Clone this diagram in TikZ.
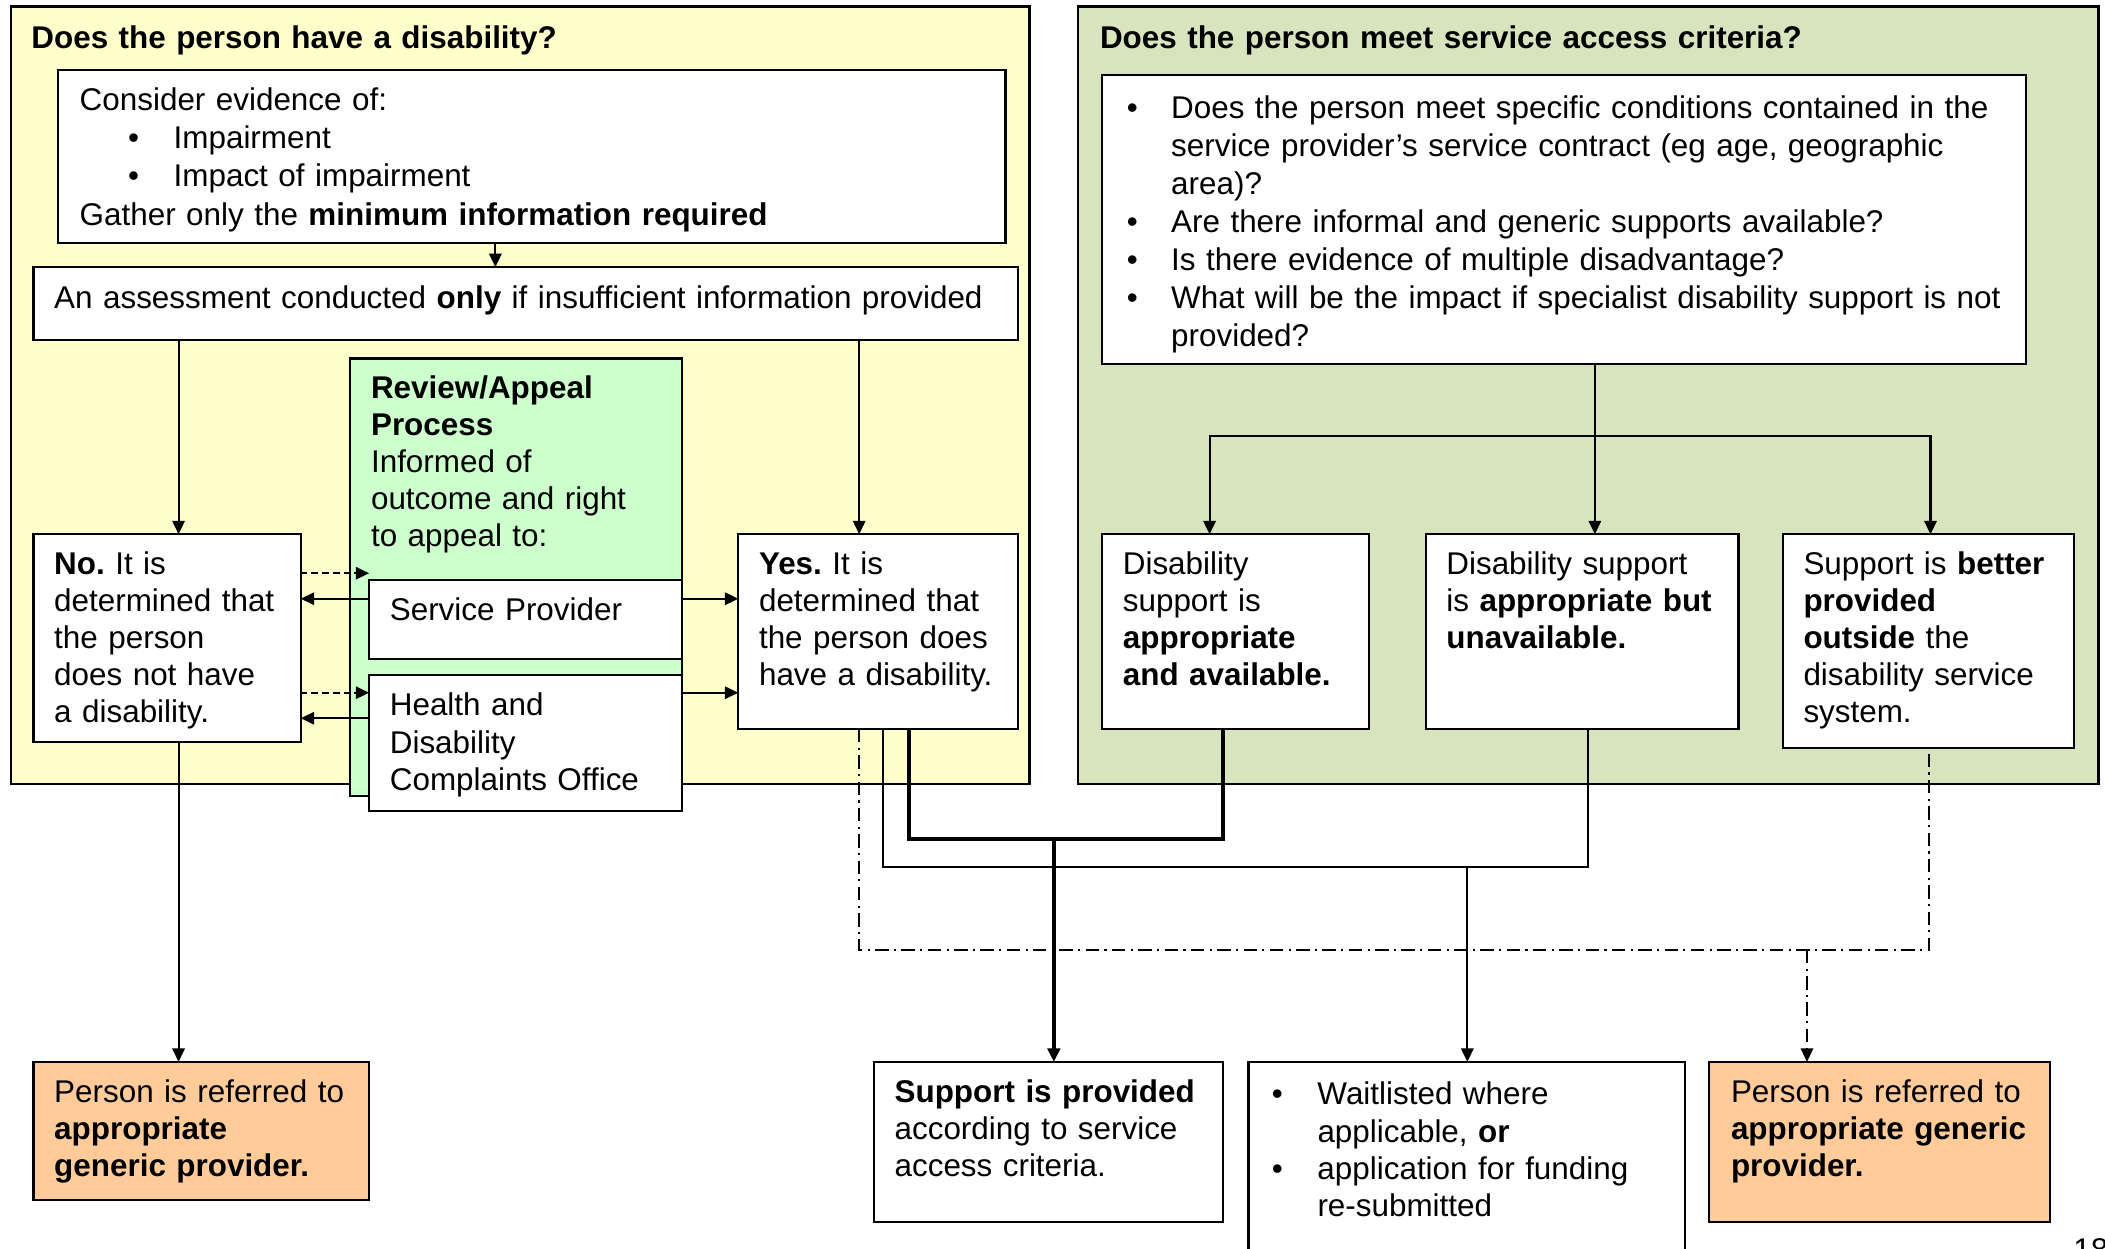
\documentclass[tikz,border=0pt]{standalone}
\usepackage{fontspec}
\setmainfont{Liberation Sans}
\usetikzlibrary{arrows.meta,fit}
\definecolor{panelY}{HTML}{FFFFCC}
\definecolor{panelG}{HTML}{D7E4BD}
\definecolor{revG}{HTML}{CCFFCC}
\definecolor{orng}{HTML}{FFCC99}
\newcommand\bulA{\makebox[17pt][l]{\textbullet}}
\newcommand\indA{\hspace*{17pt}}
\newcommand\bulB{\makebox[16.5pt][l]{\textbullet}}
\newcommand\indB{\hspace*{16.5pt}}
\frenchspacing
\begin{document}
\begin{tikzpicture}[x=0.5pt,y=-0.5pt,
  box/.style={draw, line width=0.8pt, fill=white, inner sep=0pt, outer sep=0pt},
  panel/.style={draw, line width=0.9pt, inner sep=0pt, outer sep=0pt},
  txt/.style={anchor=base west, inner sep=0pt, align=left, text width=340pt, font=\fontsize{11.7pt}{13.75pt}\selectfont},
  conn/.style={line width=0.75pt},
  arr/.style={conn, -{Triangle[length=5pt,width=4.6pt]}},
  thickc/.style={line width=1.3pt},
  thickarr/.style={thickc, -{Triangle[length=5pt,width=4.6pt]}},
  dashc/.style={conn, dash pattern=on 2.5pt off 1.5pt, -{Triangle[length=5pt,width=4.6pt]}},
  dotc/.style={line width=0.6pt, dash pattern=on 5pt off 2pt on 0.8pt off 2pt},
  dotarr/.style={dotc, -{Triangle[length=5pt,width=4.6pt]}}
]
\useasboundingbox (0,0) rectangle (1568,930);
\fill[white] (0,0) rectangle (1568,930);

% panels
\node[panel, fill=panelY, fit={(8,5) (767,584)}] (panelL) {};
\node[panel, fill=panelG, fit={(803,5) (1563,584)}] (panelR) {};
\node[txt, font=\fontsize{11.7pt}{13.75pt}\selectfont\bfseries] (titleL) at (23,36) {Does the person have a disability?};
\node[txt, font=\fontsize{11.7pt}{13.75pt}\selectfont\bfseries] (titleR) at (819,36) {Does the person meet service access criteria?};

% left boxes
\node[box, fit={(43,52) (749,181)}] (box1) {};
\node[txt, font=\fontsize{11.7pt}{14.3pt}\selectfont] (t1) at (59,82) {Consider evidence of:\\
\hspace*{18pt}\bulA Impairment\\
\hspace*{18pt}\bulA Impact of impairment\\
Gather only the \textbf{minimum information required}};
\node[box, fit={(25,199) (758,253)}] (box2) {};
\node[txt, text width=380pt] (t2) at (40,230) {An assessment conducted \textbf{only} if insufficient information provided};

\node[box, fill=revG, fit={(261,267) (508,593)}] (rev) {};
\node[txt] (trev) at (276,297) {\textbf{Review/Appeal}\\ \textbf{Process}\\ Informed of\\ outcome and right\\ to appeal to:};
\node[box, fit={(275,432) (508,491)}] (sp) {};
\node[txt] (tsp) at (290,462) {Service Provider};
\node[box, fit={(275,503) (508,604)}] (hdc) {};
\node[txt, font=\fontsize{11.7pt}{14pt}\selectfont] (thdc) at (290,533) {Health and\\ Disability\\ Complaints Office};

\node[box, fit={(25,398) (224,553)}] (no) {};
\node[txt] (tno) at (40,428) {\textbf{No.} It is\\ determined that\\ the person\\ does not have\\ a disability.};
\node[box, fit={(550,398) (758,543)}] (yes) {};
\node[txt] (tyes) at (565,428) {\textbf{Yes.} It is\\ determined that\\ the person does\\ have a disability.};

% right boxes
\node[box, fit={(821,56) (1509,271)}] (crit) {};
\node[txt, font=\fontsize{11.7pt}{14.2pt}\selectfont] (tcrit) at (839,88) {\bulB Does the person meet specific conditions contained in the\\
\indB service provider’s service contract (eg age, geographic\\
\indB area)?\\
\bulB Are there informal and generic supports available?\\
\bulB Is there evidence of multiple disadvantage?\\
\bulB What will be the impact if specialist disability support is not\\
\indB provided?};

\node[box, fit={(821,398) (1020,543)}] (ba) {};
\node[txt] (tba) at (836,428) {Disability\\ support is\\ \textbf{appropriate}\\ \textbf{and available.}};
\node[box, fit={(1062,398) (1295,543)}] (bb) {};
\node[txt] (tbb) at (1077,428) {Disability support\\ is \textbf{appropriate but}\\ \textbf{unavailable.}};
\node[box, fit={(1328,398) (1545,557)}] (bc) {};
\node[txt] (tbc) at (1343,428) {Support is \textbf{better}\\ \textbf{provided}\\ \textbf{outside} the\\ disability service\\ system.};

% bottom boxes
\node[box, fill=orng, fit={(25,791) (275,894)}] (refL) {};
\node[txt] (trefL) at (40,821) {Person is referred to\\ \textbf{appropriate}\\ \textbf{generic provider.}};
\node[box, fit={(651,791) (911,910)}] (sup) {};
\node[txt] (tsup) at (666,821) {\textbf{Support is provided}\\ according to service\\ access criteria.};
\node[box, fit={(930,791) (1255,950)}] (wait) {};
\node[txt, font=\fontsize{11.7pt}{13.9pt}\selectfont] (twait) at (947,823) {\bulA Waitlisted where\\ \indA applicable, \textbf{or}\\ \bulA application for funding\\ \indA re-submitted};
\node[box, fill=orng, fit={(1273,791) (1527,910)}] (refR) {};
\node[txt] (trefR) at (1289,821) {Person is referred to\\ \textbf{appropriate generic}\\ \textbf{provider.}};

\node[txt] (pg) at (1544,939) {18};

% helper coordinates
\coordinate (x369) at (369,0);
\coordinate (x133) at (133,0);
\coordinate (x640) at (640,0);
\coordinate (y427) at (0,427);
\coordinate (y446) at (0,446);
\coordinate (y516) at (0,516);
\coordinate (y535) at (0,535);
\coordinate (j) at (1188,325);
\coordinate (xA) at (901,0);
\coordinate (xC) at (1438,0);
\coordinate (t1) at (677,625);
\coordinate (t2) at (911,625);
\coordinate (t3) at (785,625);
\coordinate (s1) at (658,645.5);
\coordinate (s2) at (1183,645.5);
\coordinate (s3) at (1093,645.5);
\coordinate (d1) at (640,707.5);
\coordinate (d2) at (1437,707.5);
\coordinate (d3) at (1346,707.5);

% connectors
\draw[arr] (box1.south -| x369) -- (box2.north -| x369);
\draw[arr] (box2.south -| x133) -- (no.north -| x133);
\draw[arr] (box2.south -| x640) -- (yes.north -| x640);
\draw[arr] (no.south -| x133) -- (refL.north -| x133);

\draw[dashc] (no.east |- y427) -- (sp.west |- y427);
\draw[arr] (sp.west |- y446) -- (no.east |- y446);
\draw[dashc] (no.east |- y516) -- (hdc.west |- y516);
\draw[arr] (hdc.west |- y535) -- (no.east |- y535);
\draw[arr] (sp.east |- y446) -- (yes.west |- y446);
\draw[arr] (hdc.east |- y516) -- (yes.west |- y516);

\draw[conn] (crit.south -| j) -- (j);
\draw[arr] (j) -- (bb.north -| j);
\draw[arr] (j) -| (ba.north -| xA);
\draw[arr] (j) -| (bc.north -| xC);

\draw[thickc] (yes.south -| t1) -- (t1) -- (t2) -- (ba.south -| t2);
\draw[thickarr] (t3) -- (sup.north -| t3);
\draw[conn] (yes.south -| s1) -- (s1) -- (s2) -- (bb.south -| s2);
\draw[arr] (s3) -- (wait.north -| s3);
\draw[dotc] (yes.south -| d1) -- (d1) -- (d2) -- (bc.south -| d2);
\draw[dotarr] (d3) -- (refR.north -| d3);
\end{tikzpicture}
\end{document}
